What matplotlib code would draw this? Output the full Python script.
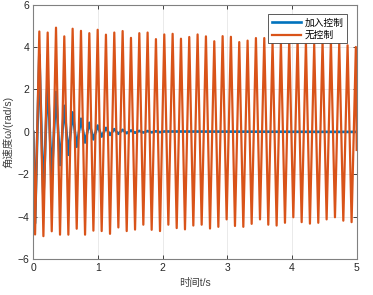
import matplotlib
matplotlib.use("Agg")
import matplotlib.pyplot as plt

plt.rcParams['font.family'] = ['Liberation Sans', 'Noto Sans CJK SC', 'DejaVu Sans']

# ---- data (extrema of the two signals) ----
peak_t = [0.093, 0.222, 0.351, 0.479, 0.608, 0.737, 0.866, 0.995, 1.123, 1.252,
          1.381, 1.510, 1.639, 1.767, 1.896, 2.025, 2.154, 2.283, 2.411, 2.540,
          2.669, 2.798, 2.927, 3.055, 3.184, 3.313, 3.442, 3.571, 3.699, 3.828,
          3.957, 4.086, 4.215, 4.343, 4.472, 4.601, 4.730, 4.859, 4.987]
trough_t = [0.027, 0.156, 0.285, 0.413, 0.542, 0.671, 0.800, 0.929, 1.057, 1.186,
            1.315, 1.444, 1.573, 1.701, 1.830, 1.959, 2.088, 2.217, 2.345, 2.474,
            2.603, 2.732, 2.861, 2.989, 3.118, 3.247, 3.376, 3.505, 3.633, 3.762,
            3.891, 4.020, 4.149, 4.277, 4.406, 4.535, 4.664, 4.793, 4.921]

# 无控制 (no control)
nc_peak = [4.73, 4.68, 4.91, 4.50, 4.86, 4.76, 4.65, 4.81, 4.58, 4.68,
           4.75, 4.43, 4.65, 4.68, 4.37, 4.59, 4.62, 4.39, 4.47, 4.59,
           4.50, 4.27, 4.51, 4.48, 4.23, 4.30, 4.42, 4.42, 4.21, 4.21,
           4.37, 4.37, 4.21, 4.12, 4.26, 4.29, 4.20, 4.08, 4.00]
nc_trough = [-4.83, -4.91, -4.68, -4.84, -4.84, -4.56, -4.84, -4.65, -4.67, -4.80,
             -4.50, -4.67, -4.60, -4.37, -4.61, -4.67, -4.37, -4.53, -4.59, -4.41,
             -4.37, -4.55, -4.47, -4.12, -4.43, -4.47, -4.33, -4.12, -4.37, -4.41,
             -4.28, -4.02, -4.25, -4.32, -4.28, -4.12, -4.02, -4.18, -4.25]
nc_start = 0.0
nc_end = -0.85

# 加入控制 (with control)
c_peak = [3.63, 2.50, 1.88, 1.23, 0.92, 0.62, 0.43, 0.30, 0.19, 0.13,
          0.10, 0.07, 0.05, 0.04, 0.03, 0.02]
c_trough = [-4.30, -3.13, -2.14, -1.56, -1.08, -0.70, -0.50, -0.35, -0.22, -0.14,
            -0.09, -0.06, -0.04, -0.03, -0.02, -0.01]
c_start = 0.0
c_end = 0.0

t_start, t_end = 0.0, 5.0

x_ticks = [0, 1, 2, 3, 4, 5]
y_ticks = [-6, -4, -2, 0, 2, 4, 6]
labels = ['加入控制', '无控制']


def zigzag(tr_t, tr_w, pk_t, pk_w, w0, w1):
    t, w = [t_start], [w0]
    for a, b, c, d in zip(tr_t, tr_w, pk_t, pk_w):
        t += [a, c]
        w += [b, d]
    t.append(t_end)
    w.append(w1)
    return t, w


nc_t, nc_w = zigzag(trough_t, nc_trough, peak_t, nc_peak, nc_start, nc_end)
n = len(c_peak)
c_t, c_w = zigzag(trough_t[:n], c_trough, peak_t[:n], c_peak, c_start, c_end)

fig = plt.figure(figsize=(3.73, 2.95), dpi=100)
ax = fig.add_axes([0.0893, 0.121, 0.867, 0.8637])

ax.plot(c_t, c_w, color='#0072BD', lw=1.9, label=labels[0])
ax.plot(nc_t, nc_w, color='#D95319', lw=1.6, label=labels[1])

ax.set_xlim(0, 5)
ax.set_ylim(-6, 6)
ax.set_xticks(x_ticks)
ax.set_yticks(y_ticks)
ax.grid(True, color='#e6e6e6', lw=0.6)
ax.set_axisbelow(True)
ax.tick_params(direction='in', length=3, width=0.6, labelsize=7.5,
               colors='#262626', top=True, right=True, pad=3)
for s in ax.spines.values():
    s.set_color('#808080')
    s.set_linewidth(0.8)

ax.set_xlabel('时间t/s', fontsize=7.5, color='#404040', labelpad=3)
ax.set_ylabel('角速度ω/(rad/s)', fontsize=7.5, color='#404040', labelpad=3)

leg = ax.legend(loc='upper right', fontsize=7, frameon=True, fancybox=False,
                borderpad=0.35, handlelength=3.0, labelspacing=0.25,
                borderaxespad=1.0, handletextpad=0.4)
leg.get_frame().set_edgecolor('#404040')
leg.get_frame().set_linewidth(0.6)
leg.get_frame().set_alpha(1.0)

fig.savefig('out.png', dpi=100)
